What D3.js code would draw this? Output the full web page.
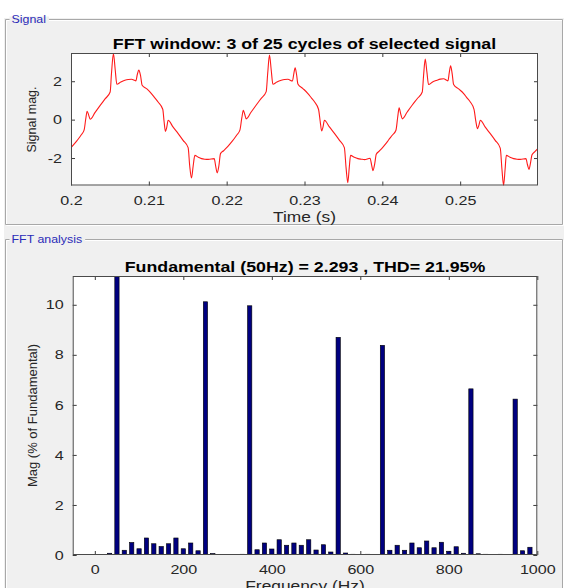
<!DOCTYPE html>
<html><head><meta charset="utf-8">
<script src="https://cdn.jsdelivr.net/npm/d3@7"></script>
<style>
body{margin:0;background:#fff;}
svg{display:block;font-family:"Liberation Sans",Arial,Helvetica,sans-serif;}
</style>
</head><body>
<svg id="c" width="564" height="588"></svg>
<script>
// ---------- Signal panel data (time in s, magnitude) ----------
const sigTime = [
0.20000,0.20045,0.20091,0.20130,0.20168,0.20190,0.20207,0.20226,0.20246,0.20310,0.20375,0.20440,0.20503,0.20520,0.20545,0.20568,0.20589,0.20640,0.20692,0.20735,0.20778,0.20833,0.20852,0.20871,0.20893,0.20914,0.20975,0.21033,0.21080,0.21119,0.21179,0.21196,0.21213,0.21230,0.21248,0.21310,0.21377,0.21440,0.21505,0.21525,0.21548,0.21570,0.21591,0.21635,0.21677,0.21720,0.21763,0.21840,0.21860,0.21878,0.21900,0.21921,0.21960,
0.22000,0.22045,0.22091,0.22130,0.22170,0.22195,0.22214,0.22232,0.22251,0.22315,0.22380,0.22444,0.22508,0.22527,0.22550,0.22572,0.22594,0.22645,0.22701,0.22745,0.22787,0.22845,0.22863,0.22880,0.22898,0.22915,0.22980,0.23044,0.23090,0.23130,0.23180,0.23202,0.23220,0.23238,0.23256,0.23320,0.23387,0.23450,0.23512,0.23534,0.23556,0.23575,0.23592,0.23640,0.23686,0.23730,0.23771,0.23842,0.23862,0.23880,0.23902,0.23922,0.23960,
0.24000,0.24045,0.24080,0.24130,0.24175,0.24198,0.24216,0.24236,0.24256,0.24320,0.24385,0.24450,0.24513,0.24530,0.24551,0.24572,0.24594,0.24645,0.24701,0.24745,0.24787,0.24843,0.24860,0.24877,0.24897,0.24916,0.24980,0.25045,0.25090,0.25130,0.25178,0.25200,0.25222,0.25240,0.25259,0.25320,0.25387,0.25450,0.25515,0.25537,0.25558,0.25577,0.25593,0.25640,0.25687,0.25730,0.25773,0.25845,0.25865,0.25884,0.25904,0.25923,0.25960,0.26000
];
const sigValue = [
-1.46,-1.25,-1.02,-0.80,-0.55,0.05,0.44,0.25,0.02,0.38,0.74,1.09,1.44,2.40,3.44,2.60,1.84,1.96,2.05,2.09,2.10,2.02,2.35,2.58,2.30,1.79,1.60,1.36,1.12,0.92,0.54,-0.10,-0.61,-0.40,-0.03,-0.38,-0.73,-1.08,-1.46,-2.40,-3.04,-2.40,-1.86,-1.96,-2.03,-2.06,-2.07,-2.03,-2.45,-2.77,-2.40,-1.77,-1.62,
-1.46,-1.25,-1.02,-0.80,-0.55,0.10,0.49,0.28,0.04,0.40,0.76,1.11,1.46,2.40,3.36,2.60,1.84,1.96,2.05,2.09,2.10,2.01,2.40,2.70,2.35,1.86,1.62,1.36,1.12,0.92,0.54,-0.10,-0.59,-0.38,-0.03,-0.38,-0.73,-1.08,-1.46,-2.50,-3.28,-2.50,-1.86,-1.96,-2.03,-2.06,-2.08,-2.01,-2.35,-2.66,-2.30,-1.80,-1.64,
-1.47,-1.25,-1.06,-0.80,-0.55,0.15,0.61,0.30,0.04,0.40,0.76,1.10,1.44,2.30,3.15,2.50,1.83,1.96,2.05,2.11,2.13,2.02,2.45,2.80,2.40,1.83,1.60,1.36,1.12,0.92,0.54,-0.05,-0.47,-0.30,-0.03,-0.38,-0.73,-1.08,-1.48,-2.60,-3.42,-2.60,-1.86,-1.96,-2.03,-2.06,-2.07,-2.03,-2.35,-2.59,-2.25,-1.83,-1.67,-1.50
];
const sigXTicks = [0.2,0.21,0.22,0.23,0.24,0.25];
const sigXTickLabels = ["0.2","0.21","0.22","0.23","0.24","0.25"];
const sigYTicks = [-2,0,2];
const sigYTickLabels = ["-2","0","2"];
const sigXDomain = [0.2,0.26];
const sigYDomain = [-3.43,3.47];

// ---------- FFT panel data (Hz, % of fundamental) ----------
const fftFreq = [0,16.67,33.33,50,66.67,83.33,100,116.67,133.33,150,166.67,183.33,200,216.67,233.33,250,266.67,283.33,300,316.67,333.33,350,366.67,383.33,400,416.67,433.33,450,466.67,483.33,500,516.67,533.33,550,566.67,583.33,600,616.67,633.33,650,666.67,683.33,700,716.67,733.33,750,766.67,783.33,800,816.67,833.33,850,866.67,883.33,900,916.67,933.33,950,966.67,983.33];
const fftMag = [0.02,0.01,0.07,100,0.19,0.50,0.25,0.68,0.45,0.34,0.45,0.68,0.25,0.48,0.17,10.12,0.06,0.01,0.01,0.02,0.03,9.96,0.21,0.48,0.24,0.61,0.39,0.48,0.39,0.61,0.20,0.41,0.12,8.70,0.08,0.03,0.02,0.03,0.02,8.38,0.19,0.39,0.19,0.48,0.29,0.56,0.29,0.51,0.15,0.33,0.07,6.64,0.05,0.03,0.01,0.03,0.01,6.23,0.17,0.31];
const fftXTicks = [0,200,400,600,800,1000];
const fftXTickLabels = ["0","200","400","600","800","1000"];
const fftYTicks = [0,2,4,6,8,10];
const fftYTickLabels = ["0","2","4","6","8","10"];
const fftXDomain = [-50,1000];
const fftYDomain = [0,11.15];
const fftBarWidthHz = 9.7;

const title1 = "FFT window: 3 of 25 cycles of selected signal";
const title2 = "Fundamental (50Hz) = 2.293 , THD= 21.95%";

const SX = 1.24;  // horizontal text stretch of the reference
const SXT = 1.27; // stretch of the bold titles
const svg = d3.select("#c");

// background and panels
svg.append("rect").attr("x",4).attr("y",18).attr("width",560).attr("height",570).attr("fill","#f0f0f0");

function panel(top, bottom, label){
  const g = svg.append("g");
  const L = 5.5, R = 562.5;
  const lines = [[L,top,R,top],[L,top,L,bottom],[L,bottom,R,bottom],[R,top,R,bottom]];
  lines.forEach(l=>{
    g.append("line").attr("x1",l[0]+1).attr("y1",l[1]+1).attr("x2",l[2]+1).attr("y2",l[3]+1).attr("stroke","#ffffff");
  });
  lines.forEach(l=>{
    g.append("line").attr("x1",l[0]).attr("y1",l[1]).attr("x2",l[2]).attr("y2",l[3]).attr("stroke","#a8a8a8");
  });
  const t = g.append("text").attr("font-size",10).attr("fill","#2b2bb8")
    .attr("transform",`translate(11.5,${top+3.6}) scale(${SX},1)`).text(label);
  const w = t.node().getComputedTextLength()*SX;
  g.insert("rect","text").attr("x",9.5).attr("y",top-3).attr("width",w+5).attr("height",7).attr("fill","#f0f0f0");
}
panel(19.5, 224.5, "Signal");
panel(239.5, 600, "FFT analysis");

function axes(g, x, y, xt, xl, yt, yl, xpad, ypad){
  const [x0,x1] = x.range(), [y0,y1] = y.range();
  g.append("rect").attr("x",x0).attr("y",y1).attr("width",x1-x0).attr("height",y0-y1).attr("fill","#fff");
  const ax = g.append("g").attr("transform",`translate(0,${y0})`)
    .call(d3.axisBottom(x).tickValues(xt).tickFormat((d,i)=>xl[i]).tickSizeInner(-4).tickSizeOuter(0).tickPadding(xpad));
  const at = g.append("g").attr("transform",`translate(0,${y1})`)
    .call(d3.axisTop(x).tickValues(xt).tickFormat("").tickSizeInner(-4).tickSizeOuter(0));
  const al = g.append("g").attr("transform",`translate(${x0},0)`)
    .call(d3.axisLeft(y).tickValues(yt).tickFormat((d,i)=>yl[i]).tickSizeInner(-4).tickSizeOuter(0).tickPadding(ypad));
  const ar = g.append("g").attr("transform",`translate(${x1},0)`)
    .call(d3.axisRight(y).tickValues(yt).tickFormat("").tickSizeInner(-4).tickSizeOuter(0));
  [ax,at,al,ar].forEach(a=>{
    a.select(".domain").remove();
    a.selectAll("line").attr("stroke","#3a3a3a");
    a.selectAll("text").attr("font-size",13).attr("fill","#262626").attr("font-family",null);
  });
  ax.selectAll("text").attr("transform",`scale(${SX},1)`);
  al.selectAll("text").attr("x",-ypad/SX).attr("transform",`scale(${SX},1)`);
  return g;
}
function boxOn(g, x, y){
  const [x0,x1] = x.range(), [y0,y1] = y.range();
  g.append("rect").attr("x",x0+0.5).attr("y",y1+0.5).attr("width",x1-x0-1).attr("height",y0-y1-1)
    .attr("fill","none").attr("stroke","#4a4a4a").attr("stroke-width",1);
}
function hText(g, x, y, s, size, bold){
  g.append("text").attr("transform",`translate(${x},${y}) scale(${bold?SXT:SX},1)`)
    .attr("text-anchor","middle").attr("font-size",size).attr("font-weight",bold?"bold":"normal")
    .attr("fill", bold?"#000":"#262626").text(s);
}
function vText(g, x, y, s, size){
  g.append("text").attr("transform",`translate(${x},${y}) rotate(-90)`)
    .attr("text-anchor","middle").attr("font-size",size).attr("fill","#262626").text(s);
}

// ---------- Signal chart ----------
{
  const g = svg.append("g");
  const x = d3.scaleLinear().domain(sigXDomain).range([71, 538]);
  const y = d3.scaleLinear().domain(sigYDomain).range([185.5, 53]);
  axes(g, x, y, sigXTicks, sigXTickLabels, sigYTicks, sigYTickLabels, 10.5, 9);
  g.append("clipPath").attr("id","clipS").append("rect")
    .attr("x",71).attr("y",52).attr("width",467).attr("height",134.5);
  const line = d3.line().x((d,i)=>x(sigTime[i])).y(d=>y(d)).curve(d3.curveMonotoneX);
  g.append("path").datum(sigValue).attr("d",line).attr("fill","none")
    .attr("stroke","#ff1a1a").attr("stroke-width",1.1).attr("clip-path","url(#clipS)");
  boxOn(g, x, y);
  hText(g, 304.5, 48.5, title1, 14, true);
  hText(g, 304.5, 221.5, "Time (s)", 14, false);
  vText(g, 36, 119.5, "Signal mag.", 12.5);
}

// ---------- FFT chart ----------
{
  const g = svg.append("g");
  const x = d3.scaleLinear().domain(fftXDomain).range([72.7, 537.3]);
  const y = d3.scaleLinear().domain(fftYDomain).range([555, 276]);
  axes(g, x, y, fftXTicks, fftXTickLabels, fftYTicks, fftYTickLabels, 10, 9);
  g.append("clipPath").attr("id","clipF").append("rect")
    .attr("x",72.7).attr("y",276).attr("width",464.6).attr("height",279);
  const bw = x(fftBarWidthHz) - x(0);
  g.append("g").attr("clip-path","url(#clipF)").selectAll("rect").data(fftMag).join("rect")
    .attr("x",(d,i)=>x(fftFreq[i]) - bw/2)
    .attr("y",d=>y(d))
    .attr("width",bw)
    .attr("height",d=>y(0)-y(d))
    .attr("fill","#000080").attr("stroke","#000").attr("stroke-width",0.6);
  boxOn(g, x, y);
  hText(g, 305, 271.5, title2, 14, true);
  hText(g, 305, 590.5, "Frequency (Hz)", 14, false);
  vText(g, 37, 415.5, "Mag (% of Fundamental)", 13);
}
</script>
</body></html>
